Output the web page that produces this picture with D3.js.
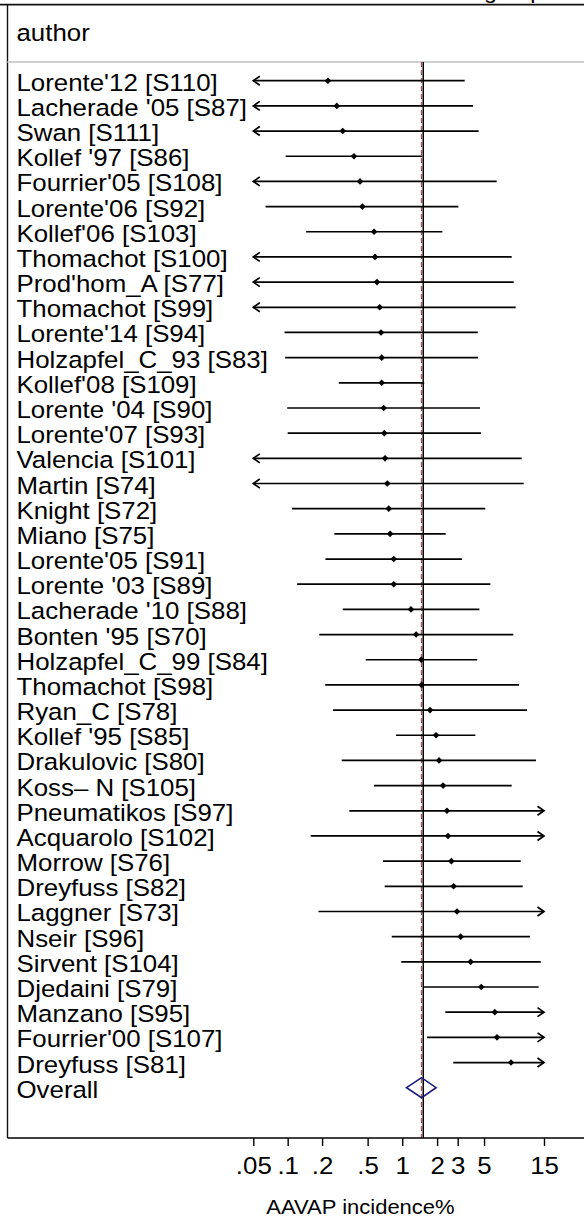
<!DOCTYPE html>
<html>
<head>
<meta charset="utf-8">
<script src="https://cdn.jsdelivr.net/npm/d3@7"></script>
<style>
  html, body { margin: 0; padding: 0; background: #fff; }
  svg { display: block; }
  text { font-family: "Liberation Sans", Arial, Helvetica, sans-serif; fill: #000; }
</style>
</head>
<body>
<svg id="chart" width="584" height="1219"></svg>
<script>
// Study labels, top to bottom
const studies = [
  "Lorente'12 [S110]", "Lacherade '05 [S87]", "Swan [S111]", "Kollef '97 [S86]",
  "Fourrier'05 [S108]", "Lorente'06 [S92]", "Kollef'06 [S103]", "Thomachot [S100]",
  "Prod'hom_A [S77]", "Thomachot [S99]", "Lorente'14 [S94]", "Holzapfel_C_93 [S83]",
  "Kollef'08 [S109]", "Lorente '04 [S90]", "Lorente'07 [S93]", "Valencia [S101]",
  "Martin [S74]", "Knight [S72]", "Miano [S75]", "Lorente'05 [S91]",
  "Lorente '03 [S89]", "Lacherade '10 [S88]", "Bonten '95 [S70]", "Holzapfel_C_99 [S84]",
  "Thomachot [S98]", "Ryan_C [S78]", "Kollef '95 [S85]", "Drakulovic [S80]",
  "Koss\u2013 N [S105]", "Pneumatikos  [S97]", "Acquarolo [S102]", "Morrow [S76]",
  "Dreyfuss [S82]", "Laggner [S73]", "Nseir [S96]", "Sirvent [S104]",
  "Djedaini [S79]", "Manzano [S95]", "Fourrier'00 [S107]", "Dreyfuss [S81]"
];

// AAVAP incidence (%) and 95% CI per study
const estimates = [
  0.225, 0.269, 0.303, 0.380, 0.429, 0.450, 0.569, 0.580,
  0.603, 0.637, 0.654, 0.663, 0.663, 0.690, 0.699, 0.709,
  0.742, 0.763, 0.784, 0.844, 0.844, 1.19, 1.32, 1.46,
  1.47, 1.74, 1.96, 2.08, 2.25, 2.43, 2.48, 2.65,
  2.77, 2.96, 3.18, 3.86, 4.74, 6.14, 6.40, 8.31
];
const lowers = [
  0.02, 0.02, 0.02, 0.096, 0.02, 0.064, 0.145, 0.02,
  0.02, 0.02, 0.094, 0.095, 0.280, 0.099, 0.100, 0.02,
  0.02, 0.109, 0.256, 0.214, 0.121, 0.303, 0.189, 0.481,
  0.213, 0.249, 0.883, 0.297, 0.569, 0.346, 0.159, 0.681,
  0.704, 0.186, 0.811, 0.981, 1.54, 2.35, 1.64, 2.75
];
const uppers = [
  3.44, 4.04, 4.51, 1.49, 6.36, 3.04, 2.22, 8.42,
  8.74, 9.06, 4.43, 4.45, 1.55, 4.63, 4.72, 10.11,
  10.49, 5.12, 2.37, 3.26, 5.64, 4.57, 8.68, 4.39,
  9.63, 11.13, 4.23, 13.05, 8.42, 20, 20, 9.93,
  10.30, 20, 11.74, 14.17, 13.68, 20, 20, 20
];

// Pooled estimate
const overallLabel = "Overall";
const overallEst = 1.47;
const overallLo = 1.09;
const overallHi = 1.96;
const referenceLine = 1.52;

// Axis ticks
const tickValues = [0.05, 0.1, 0.2, 0.5, 1, 2, 3, 5, 15];
const tickLabels = [".05", ".1", ".2", ".5", "1", "2", "3", "5", "15"];
const headerLabel = "author";
const axisTitle = "AAVAP incidence%";

const logit = p => Math.log((p / 100) / (1 - p / 100));
const textStretch = "scale(1.1,1)";

const svg = d3.select("#chart");

const axisMin = tickValues[0], axisMax = tickValues[tickValues.length - 1];
const xl = d3.scaleLinear().domain([logit(axisMin), logit(axisMax)]).range([253.3, 544]);
const x = p => xl(logit(p));

const nRows = studies.length + 1;
const y = d3.scaleLinear().domain([0, nRows - 1]).range([80.7, 1087.7]);

const plotTop = 62, axisY = 1138, leftEdge = 7.5;

// frame
svg.append("line").attr("x1", 0).attr("x2", 584).attr("y1", 4.7).attr("y2", 4.7)
  .attr("stroke", "#111").attr("stroke-width", 1.8);
svg.append("line").attr("x1", leftEdge).attr("x2", leftEdge).attr("y1", 4.7).attr("y2", axisY)
  .attr("stroke", "#111").attr("stroke-width", 1.4);
svg.append("line").attr("x1", leftEdge).attr("x2", 584).attr("y1", plotTop).attr("y2", plotTop)
  .attr("stroke", "#cfcfcf").attr("stroke-width", 1.8);

// title text above the frame (only its lower part falls inside the canvas)
svg.append("text").attr("transform", `translate(484,-1.5) ${textStretch}`)
  .style("font-size", "21px").text("group");

// header
svg.append("text").attr("transform", `translate(16.5,40.7) ${textStretch}`)
  .style("font-size", "23.5px").text(headerLabel);

// reference lines
svg.append("line").attr("x1", x(referenceLine)).attr("x2", x(referenceLine))
  .attr("y1", plotTop).attr("y2", axisY).attr("stroke", "#000").attr("stroke-width", 1.5);
svg.append("line").attr("x1", x(overallEst)).attr("x2", x(overallEst))
  .attr("y1", plotTop).attr("y2", axisY).attr("stroke", "#a0525a").attr("stroke-width", 1.5)
  .attr("stroke-dasharray", "5,3");

// study labels
const rows = studies.map((s, i) => ({ label: s, est: estimates[i], lo: lowers[i], hi: uppers[i], i }));

svg.append("g").selectAll("text").data(rows.concat([{ label: overallLabel, i: nRows - 1 }]))
  .join("text")
  .attr("transform", d => `translate(16.5,${y(d.i) + 10}) ${textStretch}`)
  .style("font-size", "23.5px")
  .text(d => d.label);

// confidence intervals
const ci = svg.append("g").attr("stroke", "#000").attr("stroke-width", 1.7).attr("fill", "none");
ci.selectAll("line").data(rows).join("line")
  .attr("x1", d => x(Math.max(d.lo, axisMin)))
  .attr("x2", d => x(Math.min(d.hi, axisMax)))
  .attr("y1", d => y(d.i)).attr("y2", d => y(d.i));

// arrows for intervals beyond the axis range
ci.selectAll("path.left").data(rows.filter(d => d.lo < axisMin)).join("path")
  .attr("class", "left")
  .attr("d", d => { const tx = x(axisMin), ty = y(d.i); return `M${tx + 6.5},${ty - 4.5}L${tx},${ty}L${tx + 6.5},${ty + 4.5}`; });
ci.selectAll("path.right").data(rows.filter(d => d.hi > axisMax)).join("path")
  .attr("class", "right")
  .attr("d", d => { const tx = x(axisMax), ty = y(d.i); return `M${tx - 6.5},${ty - 4.5}L${tx},${ty}L${tx - 6.5},${ty + 4.5}`; });

// point estimates
svg.append("g").selectAll("path").data(rows).join("path")
  .attr("d", d3.symbol(d3.symbolSquare, 22))
  .attr("transform", d => `translate(${x(d.est)},${y(d.i)}) rotate(45)`)
  .attr("fill", "#000");

// pooled diamond
const oy = y(nRows - 1);
svg.append("path")
  .attr("d", `M${x(overallLo)},${oy}L${x(overallEst)},${oy - 10}L${x(overallHi)},${oy}L${x(overallEst)},${oy + 10}Z`)
  .attr("fill", "none").attr("stroke", "#1a1a80").attr("stroke-width", 1.6);

// x axis
svg.append("line").attr("x1", leftEdge).attr("x2", 584).attr("y1", axisY).attr("y2", axisY)
  .attr("stroke", "#000").attr("stroke-width", 1.6);
const axis = d3.axisBottom(xl)
  .tickValues(tickValues.map(logit))
  .tickFormat((d, i) => tickLabels[i])
  .tickSize(8);
const ax = svg.append("g").attr("transform", `translate(0,${axisY})`).call(axis);
ax.select(".domain").remove();
ax.selectAll(".tick line").attr("stroke", "#000").attr("stroke-width", 1.4);
ax.selectAll(".tick text")
  .attr("y", 36.3).attr("dy", 0)
  .attr("transform", textStretch)
  .attr("fill", "#000")
  .style("font-size", "23.5px")
  .style("font-family", "'Liberation Sans', Arial, sans-serif");

svg.append("text").attr("transform", `translate(360.5,1214) ${textStretch}`)
  .attr("text-anchor", "middle").style("font-size", "20px").text(axisTitle);
</script>
</body>
</html>
